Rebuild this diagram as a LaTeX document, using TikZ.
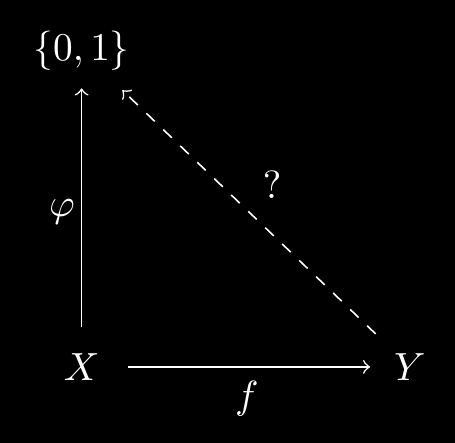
\documentclass[tikz,border=0pt]{standalone}
\usepackage{amsmath}
\usepackage{tikz}

\tikzset{
  obj/.style={inner sep=0pt, text=white},
  mapline/.style={draw=white, ->},
  maplabel/.style={text=white}
}

\begin{document}
\begin{tikzpicture}
\fill[black] (0,0) rectangle (4.070,3.962);
\useasboundingbox (0,0) rectangle (4.070,3.962);
\node[obj] (Nzo) at (0.730,3.506) {$\{0,1\}$};
\node[obj] (NX) at (0.730,0.680) {$X$};
\node[obj] (NY) at (3.667,0.680) {$Y$};
\draw[mapline, shorten <=6.5pt, shorten >=4.3pt] (NX) -- (Nzo) node[maplabel, midway, left, inner sep=1.5pt] {$\varphi$};
\draw[mapline, shorten <=7.1pt, shorten >=5.9pt] (NX) -- (NY) node[maplabel, midway, below] {$f$};
\draw[mapline, dashed, shorten <=6.9pt, shorten >=6.9pt] (NY) -- (Nzo) node[maplabel, midway, above right] {$?$};
\end{tikzpicture}
\end{document}
